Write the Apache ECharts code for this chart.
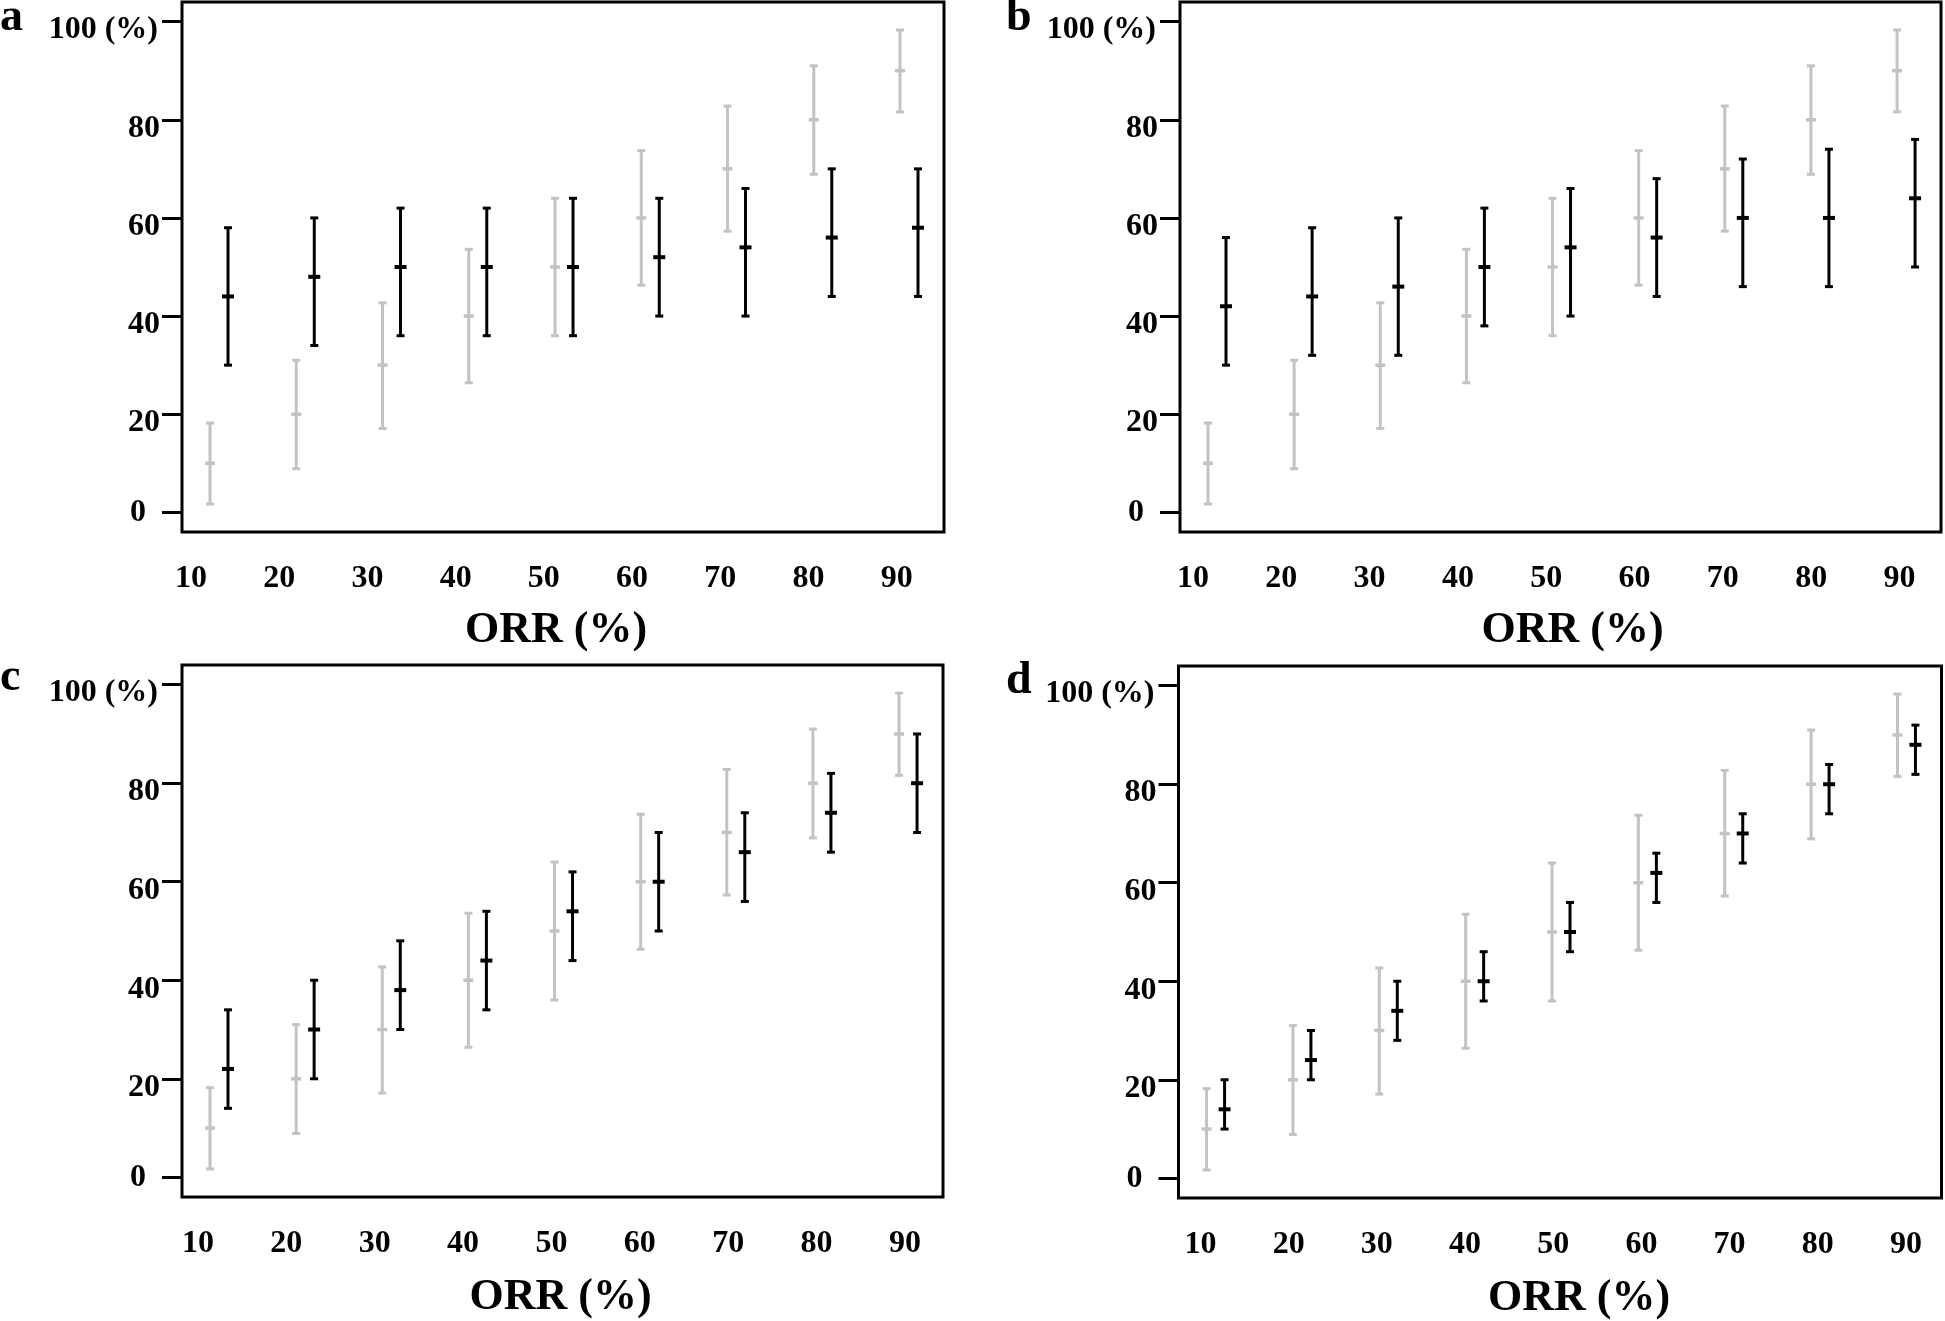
<!DOCTYPE html>
<html>
<head>
<meta charset="utf-8">
<script src="https://cdn.jsdelivr.net/npm/echarts@6/dist/echarts.min.js"></script>
<style>html,body{margin:0;padding:0;background:#fff}#chart{width:1945px;height:1321px}</style>
</head>
<body>
<div id="chart"></div>
<script>
// ---- data ----
const orr = [10, 20, 30, 40, 50, 60, 70, 80, 90];
const xTickLabels = [10, 20, 30, 40, 50, 60, 70, 80, 90];
const yTicks = [0, 20, 40, 60, 80, 100];
const panelLetters = ['a', 'b', 'c', 'd'];

// reference (grey) estimates, identical in all panels
const greyMid = [10, 20, 30, 40, 50, 60, 70, 80, 90];
const greyLo  = [1.7, 8.9, 17.1, 26.4, 36.0, 46.3, 57.3, 68.9, 81.6];
const greyHi  = [18.2, 31.0, 42.7, 53.6, 64.0, 73.7, 82.8, 91.0, 98.3];

// panel a
const aMid = [44, 48, 50, 50, 50, 52, 54, 56, 58];
const aLo  = [30, 34, 36, 36, 36, 40, 40, 44, 44];
const aHi  = [58, 60, 62, 62, 64, 64, 66, 70, 70];
// panel b
const bMid = [42, 44, 46, 50, 54, 56, 60, 60, 64];
const bLo  = [30, 32, 32, 38, 40, 44, 46, 46, 50];
const bHi  = [56, 58, 60, 62, 66, 68, 72, 74, 76];
// panel c
const cMid = [22, 30, 38, 44, 54, 60, 66, 74, 80];
const cLo  = [14, 20, 30, 34, 44, 50, 56, 66, 70];
const cHi  = [34, 40, 48, 54, 62, 70, 74, 82, 90];
// panel d
const dMid = [14, 24, 34, 40, 50, 62, 70, 80, 88];
const dLo  = [10, 20, 28, 36, 46, 56, 64, 74, 82];
const dHi  = [20, 30, 40, 46, 56, 66, 74, 84, 92];

const blackSets = [[aMid, aLo, aHi], [bMid, bLo, bHi], [cMid, cLo, cHi], [dMid, dLo, dHi]];

// ---- layout (styles/positions only) ----
const FONT = '"Liberation Serif", "Times New Roman", serif';
const layouts = [
  {left: 182,    top: 2,   width: 762, height: 530, lblMin: 8.98, lblMax: 95.36, nameShift: -7, tagX: 0,    tagY: 19},
  {left: 1180,   top: 2,   width: 761, height: 530, lblMin: 8.53, lblMax: 94.70, nameShift: 12, tagX: 1006, tagY: 19},
  {left: 182,    top: 665, width: 761, height: 532, lblMin: 8.19, lblMax: 94.30, nameShift: -2, tagX: 0,    tagY: 679},
  {left: 1178.5, top: 666, width: 763, height: 532, lblMin: 7.51, lblMax: 94.03, nameShift: 19, tagX: 1006, tagY: 682}
];

function makeRows(mid, lo, hi) {
  return orr.map((x, i) => [x, mid[i], lo[i], hi[i]]);
}

function makeRender(color, offsetPx, lw, capHalf, midHalf, midW) {
  return function (params, api) {
    const x = api.value(0);
    const pm = api.coord([x, api.value(1)]);
    const pl = api.coord([x, api.value(2)]);
    const ph = api.coord([x, api.value(3)]);
    const cx = pm[0] + offsetPx;
    const st = {stroke: color, lineWidth: lw, fill: null};
    return {
      type: 'group',
      children: [
        {type: 'line', shape: {x1: cx, y1: ph[1], x2: cx, y2: pl[1]}, style: st},
        {type: 'line', shape: {x1: cx - capHalf, y1: ph[1], x2: cx + capHalf, y2: ph[1]}, style: st},
        {type: 'line', shape: {x1: cx - capHalf, y1: pl[1], x2: cx + capHalf, y2: pl[1]}, style: st},
        {type: 'line', shape: {x1: cx - midHalf, y1: pm[1], x2: cx + midHalf, y2: pm[1]}, style: {stroke: color, lineWidth: midW, fill: null}}
      ]
    };
  };
}

const grids = [], xAxes = [], yAxes = [], series = [], graphics = [];
const labelFont = {fontFamily: FONT, fontWeight: 'bold', fontSize: 32, color: '#000'};

layouts.forEach((L, p) => {
  grids.push({
    left: L.left, top: L.top, width: L.width, height: L.height,
    show: true, borderColor: '#000', borderWidth: 3, backgroundColor: 'transparent',
    containLabel: false, outerBoundsMode: 'none'
  });
  const xPoint = xAxes.length;
  xAxes.push({
    type: 'value', gridIndex: p, position: 'bottom', min: 6.75, max: 95.1,
    axisLine: {show: false}, axisTick: {show: false}, axisLabel: {show: false}, splitLine: {show: false}
  });
  const padName = L.nameShift >= 0 ? [0, 0, 0, 2 * L.nameShift] : [0, -2 * L.nameShift, 0, 0];
  xAxes.push({
    type: 'value', gridIndex: p, position: 'bottom', min: L.lblMin, max: L.lblMax,
    axisLine: {show: false}, axisTick: {show: false}, splitLine: {show: false},
    axisLabel: Object.assign({show: true, margin: 31, customValues: xTickLabels}, labelFont),
    name: 'ORR (%)', nameLocation: 'middle', nameGap: p < 2 ? 99 : 101,
    nameTextStyle: {fontFamily: FONT, fontWeight: 'bold', fontSize: 44, color: '#000', verticalAlign: 'middle', padding: padName}
  });
  const yMain = yAxes.length;
  yAxes.push({
    type: 'value', gridIndex: p, position: 'left', min: -4, max: 104,
    axisLine: {show: false}, splitLine: {show: false},
    axisTick: {show: true, inside: false, length: 20, customValues: yTicks, lineStyle: {color: '#000', width: 3}},
    axisLabel: Object.assign({show: true, margin: 22, align: 'right', verticalAlign: 'top', lineHeight: 18,
      customValues: yTicks.filter(v => v > 0 && v < 100)}, labelFont)
  });
  yAxes.push({
    type: 'value', gridIndex: p, position: 'left', min: -4, max: 104,
    axisLine: {show: false}, splitLine: {show: false}, axisTick: {show: false},
    axisLabel: Object.assign({show: true, margin: 36, align: 'right', verticalAlign: 'middle',
      customValues: yTicks.filter(v => v === 0)}, labelFont)
  });
  yAxes.push({
    type: 'value', gridIndex: p, position: 'left', min: -4, max: 104,
    axisLine: {show: false}, splitLine: {show: false}, axisTick: {show: false},
    axisLabel: Object.assign({show: true, margin: 24, align: 'right', verticalAlign: 'top', lineHeight: 16,
      customValues: yTicks.filter(v => v === 100), formatter: v => v + ' (%)'}, labelFont)
  });

  series.push({
    type: 'custom', name: 'reference', xAxisIndex: xPoint, yAxisIndex: yMain,
    data: makeRows(greyMid, greyLo, greyHi), encode: {x: 0, y: [1, 2, 3]},
    renderItem: makeRender('#c3c3c3', 0, 3, 4, 5, 3.5), clip: false, silent: true
  });
  const bs = blackSets[p];
  series.push({
    type: 'custom', name: 'estimate', xAxisIndex: xPoint, yAxisIndex: yMain,
    data: makeRows(bs[0], bs[1], bs[2]), encode: {x: 0, y: [1, 2, 3]},
    renderItem: makeRender('#000', 18, 3, 4, 6, 4), clip: false, silent: true
  });

  graphics.push({
    type: 'text', left: L.tagX, top: L.tagY - 24,
    style: {text: panelLetters[p], font: 'bold 46px ' + FONT, fill: '#000'}
  });
});

const chart = echarts.init(document.getElementById('chart'), null, {renderer: 'canvas'});
chart.setOption({
  animation: false,
  backgroundColor: '#fff',
  grid: grids, xAxis: xAxes, yAxis: yAxes, series: series, graphic: graphics
});
</script>
</body>
</html>
